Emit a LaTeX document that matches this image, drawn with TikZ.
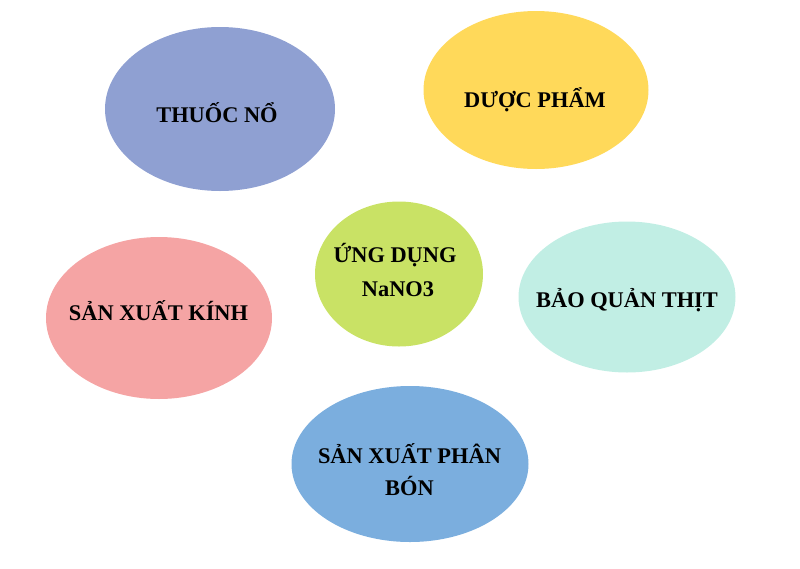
\documentclass[tikz,border=0pt]{standalone}
\usepackage{fontspec}
\setmainfont{Liberation Serif}
\usetikzlibrary{shapes.geometric}

\definecolor{tim}{RGB}{143,160,210}
\definecolor{vang}{RGB}{255,217,90}
\definecolor{laxanh}{RGB}{201,226,101}
\definecolor{hong}{RGB}{245,164,164}
\definecolor{ngoc}{RGB}{193,238,228}
\definecolor{lam}{RGB}{123,174,222}

\tikzset{
    bubble/.style={ellipse, draw=none, inner sep=0pt},
    chu/.style={anchor=base, inner sep=0pt, font=\fontsize{16.8}{20}\selectfont\bfseries}
}

\begin{document}
\begin{tikzpicture}[x=0.75pt, y=-0.75pt]
\useasboundingbox (0,0) rectangle (800,568);

\node [bubble, fill=tim, minimum width=172.5pt, minimum height=123pt] (a) at (220,109) {};
\node [bubble, fill=vang, minimum width=168.75pt, minimum height=118.5pt] (b) at (536,90) {};
\node [bubble, fill=hong, minimum width=169.5pt, minimum height=121.5pt] (c) at (159,318) {};
\node [bubble, fill=laxanh, minimum width=126pt, minimum height=108.75pt] (d) at (399,274) {};
\node [bubble, fill=ngoc, minimum width=162.75pt, minimum height=113.25pt] (e) at (627,297) {};
\node [bubble, fill=lam, minimum width=177.75pt, minimum height=117pt] (f) at (410,464) {};

\node [chu] (at) at (217,122) {THUỐC NỔ};
\node [chu] (bt) at (535,107) {DƯỢC PHẨM};
\node [chu] (ct) at (158.5,320) {SẢN XUẤT KÍNH};
\node [chu] (dt1) at (395,262) {ỨNG DỤNG};
\node [chu] (dt2) at (398,296) {NaNO3};
\node [chu] (et) at (627,307) {BẢO QUẢN THỊT};
\node [chu] (ft1) at (409.5,463) {SẢN XUẤT PHÂN};
\node [chu] (ft2) at (409.5,495) {BÓN};

\end{tikzpicture}
\end{document}
